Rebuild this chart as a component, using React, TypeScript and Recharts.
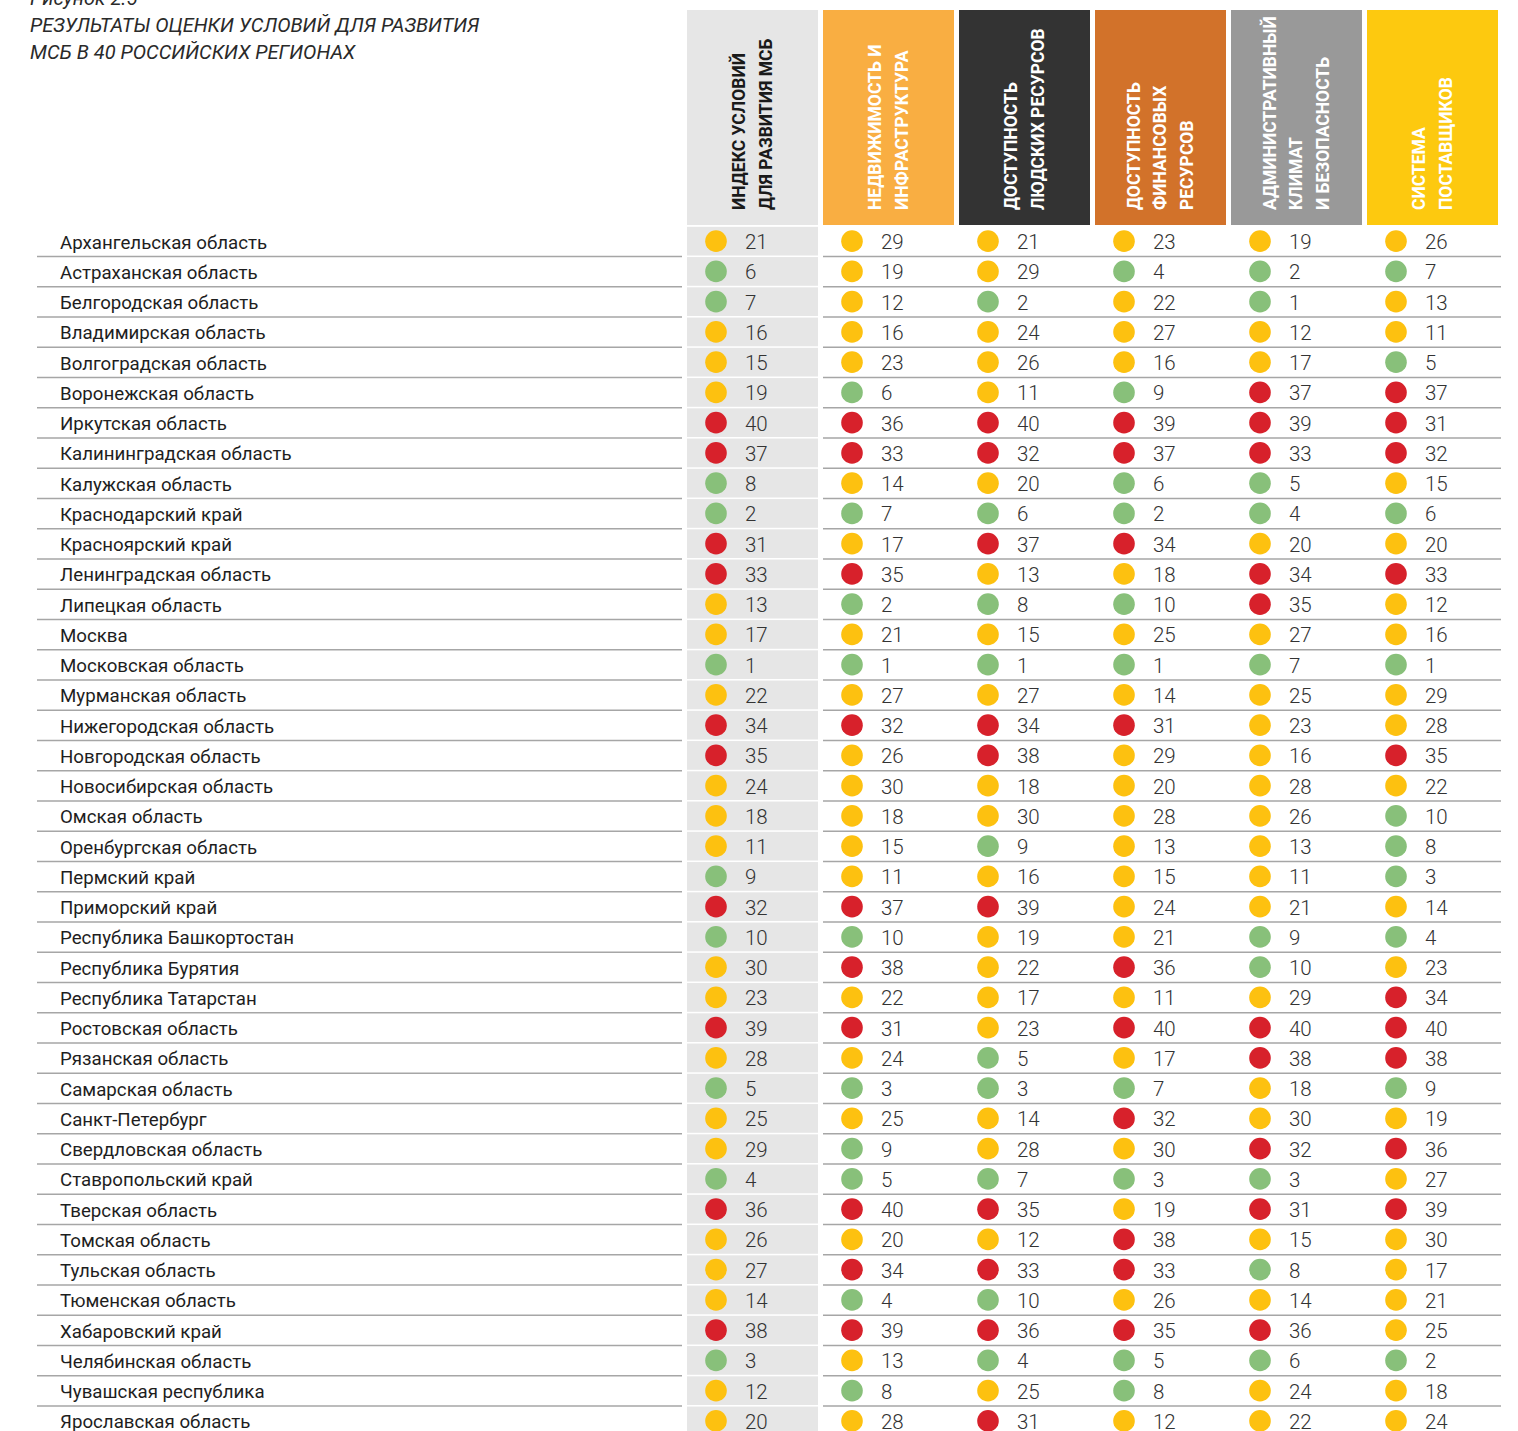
import React from 'react';
import { ScatterChart, Scatter, XAxis, YAxis } from 'recharts';

const regions = [
  'Архангельская область', 'Астраханская область', 'Белгородская область', 'Владимирская область',
  'Волгоградская область', 'Воронежская область', 'Иркутская область', 'Калининградская область',
  'Калужская область', 'Краснодарский край', 'Красноярский край', 'Ленинградская область',
  'Липецкая область', 'Москва', 'Московская область', 'Мурманская область',
  'Нижегородская область', 'Новгородская область', 'Новосибирская область', 'Омская область',
  'Оренбургская область', 'Пермский край', 'Приморский край', 'Республика Башкортостан',
  'Республика Бурятия', 'Республика Татарстан', 'Ростовская область', 'Рязанская область',
  'Самарская область', 'Санкт-Петербург', 'Свердловская область', 'Ставропольский край',
  'Тверская область', 'Томская область', 'Тульская область', 'Тюменская область',
  'Хабаровский край', 'Челябинская область', 'Чувашская республика', 'Ярославская область',
];

const columnTitles = [
  ['ИНДЕКС УСЛОВИЙ', 'ДЛЯ РАЗВИТИЯ МСБ'],
  ['НЕДВИЖИМОСТЬ И', 'ИНФРАСТРУКТУРА'],
  ['ДОСТУПНОСТЬ', 'ЛЮДСКИХ РЕСУРСОВ'],
  ['ДОСТУПНОСТЬ', 'ФИНАНСОВЫХ', 'РЕСУРСОВ'],
  ['АДМИНИСТРАТИВНЫЙ', 'КЛИМАТ', 'И БЕЗОПАСНОСТЬ'],
  ['СИСТЕМА', 'ПОСТАВЩИКОВ'],
];
const headerFills = ['#e6e6e6', '#f9ae42', '#333333', '#d2722a', '#999999', '#fdc90f'];
const headerInk = ['#1a1a1a', '#ffffff', '#ffffff', '#ffffff', '#ffffff', '#ffffff'];

const indexRanks = [21, 6, 7, 16, 15, 19, 40, 37, 8, 2, 31, 33, 13, 17, 1, 22, 34, 35, 24, 18, 11, 9, 32, 10, 30, 23, 39, 28, 5, 25, 29, 4, 36, 26, 27, 14, 38, 3, 12, 20];
const realEstateRanks = [29, 19, 12, 16, 23, 6, 36, 33, 14, 7, 17, 35, 2, 21, 1, 27, 32, 26, 30, 18, 15, 11, 37, 10, 38, 22, 31, 24, 3, 25, 9, 5, 40, 20, 34, 4, 39, 13, 8, 28];
const laborRanks = [21, 29, 2, 24, 26, 11, 40, 32, 20, 6, 37, 13, 8, 15, 1, 27, 34, 38, 18, 30, 9, 16, 39, 19, 22, 17, 23, 5, 3, 14, 28, 7, 35, 12, 33, 10, 36, 4, 25, 31];
const financeRanks = [23, 4, 22, 27, 16, 9, 39, 37, 6, 2, 34, 18, 10, 25, 1, 14, 31, 29, 20, 28, 13, 15, 24, 21, 36, 11, 40, 17, 7, 32, 30, 3, 19, 38, 33, 26, 35, 5, 8, 12];
const adminRanks = [19, 2, 1, 12, 17, 37, 39, 33, 5, 4, 20, 34, 35, 27, 7, 25, 23, 16, 28, 26, 13, 11, 21, 9, 10, 29, 40, 38, 18, 30, 32, 3, 31, 15, 8, 14, 36, 6, 24, 22];
const supplierRanks = [26, 7, 13, 11, 5, 37, 31, 32, 15, 6, 20, 33, 12, 16, 1, 29, 28, 35, 22, 10, 8, 3, 14, 4, 23, 34, 40, 38, 9, 19, 36, 27, 39, 30, 17, 21, 25, 2, 18, 24];

const allColumns = [indexRanks, realEstateRanks, laborRanks, financeRanks, adminRanks, supplierRanks];

const colTicks = allColumns.map((_, i) => i);
const rowTicks = regions.map((_, i) => i);

const GREEN = '#88c07a';
const YELLOW = '#fdc110';
const RED = '#d7212b';
const rankColor = (v: number) => (v <= 10 ? GREEN : v <= 30 ? YELLOW : RED);

const FONT = 'Roboto, "DejaVu Sans", sans-serif';

const HeaderTick = (props: any) => {
  const { x, payload } = props;
  const i = payload.value as number;
  const left = x - 68;
  const lines = columnTitles[i];
  const mid = left + 65;
  return (
    <g>
      <rect x={left} y={10} width={131} height={215} fill={headerFills[i]} />
      {lines.map((ln, j) => {
        const lx = mid + (j - (lines.length - 1) / 2) * 26.5;
        return (
          <text
            key={j}
            x={lx}
            y={210}
            dy="0.36em"
            transform={`rotate(-90, ${lx}, 210)`}
            fill={headerInk[i]}
            fontFamily={FONT}
            fontWeight={700}
            fontSize={17.5}
            textAnchor="start"
          >
            {ln}
          </text>
        );
      })}
    </g>
  );
};

const RowTick = (props: any) => {
  const { y, payload } = props;
  const r = payload.value as number;
  const sep = y + 15.3;
  return (
    <g>
      <text x={60} y={y + 7.5} fill="#1e1e1e" fontFamily={FONT} fontSize={18.7}>
        {regions[r]}
      </text>
      <line x1={37} x2={682} y1={sep} y2={sep} stroke="#a6a6a6" strokeWidth={1.4} />
      <line x1={823} x2={1501} y1={sep} y2={sep} stroke="#a6a6a6" strokeWidth={1.4} />
    </g>
  );
};

const RankMark = (props: any) => {
  const { cx, cy, payload } = props;
  const v = payload.rank as number;
  return (
    <g>
      {payload.col === 0 && (
        <rect x={cx - 68} y={cy - 14.3} width={131} height={28.7} fill="#e6e6e6" />
      )}
      <circle cx={cx - 39} cy={cy} r={10.8} fill={rankColor(v)} />
      <text x={cx - 10} y={cy + 8} fill="#333333" fontFamily={FONT} fontWeight={300} fontSize={20.5}>
        {v}
      </text>
    </g>
  );
};

export default function App() {
  const series = allColumns.map((vals, c) => vals.map((v, r) => ({ col: c, row: r, rank: v })));
  return (
    <div style={{ position: 'absolute', left: 0, top: 0, width: 1518, height: 1431, overflow: 'hidden', background: '#fff' }}>
      <div
        style={{
          position: 'absolute',
          left: 30,
          top: -15,
          fontFamily: FONT,
          fontStyle: 'italic',
          fontSize: 20,
          lineHeight: '27px',
          color: '#2a2a2a',
          whiteSpace: 'nowrap',
        }}
      >
        <div>Рисунок 2.5</div>
        <div>РЕЗУЛЬТАТЫ ОЦЕНКИ УСЛОВИЙ ДЛЯ РАЗВИТИЯ</div>
        <div>МСБ В 40 РОССИЙСКИХ РЕГИОНАХ</div>
      </div>
      <div style={{ position: 'absolute', left: 0, top: 0 }}>
        <ScatterChart width={1518} height={1440} margin={{ top: 0, right: 15, left: 0, bottom: 4 }}>
          <XAxis
            type="number"
            dataKey="col"
            orientation="top"
            height={226}
            domain={[-0.5, 5.5]}
            allowDataOverflow
            ticks={colTicks}
            interval={0}
            tickLine={false}
            axisLine={false}
            tick={<HeaderTick />}
          />
          <YAxis
            type="number"
            dataKey="row"
            width={687}
            domain={[-0.5, 39.5]}
            allowDataOverflow
            reversed
            ticks={rowTicks}
            interval={0}
            tickLine={false}
            axisLine={false}
            tick={<RowTick />}
          />
          {series.map((d, c) => (
            <Scatter key={c} data={d} isAnimationActive={false} shape={<RankMark />} />
          ))}
        </ScatterChart>
      </div>
    </div>
  );
}
